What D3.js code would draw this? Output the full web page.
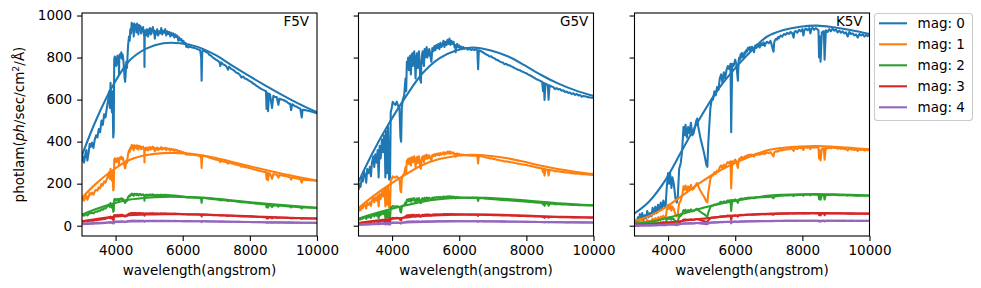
<!DOCTYPE html>
<html><head><meta charset="utf-8">
<script src="https://cdn.jsdelivr.net/npm/d3@7"></script>
<style>
body{margin:0;background:#fff}
svg{display:block}
text{font-family:"DejaVu Sans",sans-serif}
</style>
</head><body>
<svg id="c" width="981" height="288"></svg>
<script>
// ---------------- data ----------------
const starNames = ["F5V", "G5V", "K5V"];
const magLabels = ["mag: 0", "mag: 1", "mag: 2", "mag: 3", "mag: 4"];
const magScale = [1.0, 0.398, 0.158, 0.0631, 0.0251];
const seriesColors = ["#1f77b4", "#ff7f0e", "#2ca02c", "#d62728", "#9467bd"];
const xTicks = [4000, 6000, 8000, 10000];
const yTicks = [0, 200, 400, 600, 800, 1000];

// [wavelength (Å), photlam] for mag 0
const f5vSpectrum = [
[3000,305],[3030,330],[3060,300],[3100,340],[3130,360],[3160,310],[3200,350],[3230,390],[3260,375],[3300,395],
[3340,370],[3380,410],[3420,430],[3460,420],[3500,460],[3540,445],[3580,500],[3620,480],[3660,530],[3700,515],
[3740,560],[3780,600],[3810,640],[3830,560],[3850,680],[3870,610],[3890,540],[3910,640],[3930,420],[3945,440],
[3960,790],[3975,805],[3990,770],[4005,800],[4020,760],[4040,785],[4060,810],[4080,770],[4095,790],[4102,720],
[4110,790],[4130,815],[4150,800],[4170,825],[4190,795],[4210,815],[4230,790],[4250,750],[4270,700],[4285,685],
[4300,720],[4320,780],[4340,750],[4355,800],[4370,850],[4380,870],[4400,900],[4420,880],[4440,935],[4460,915],
[4480,965],[4500,930],[4520,958],[4540,900],[4560,962],[4580,940],[4600,955],[4620,920],[4640,962],[4660,945],
[4680,910],[4700,955],[4720,935],[4740,950],[4760,915],[4780,940],[4800,925],[4820,945],[4840,915],[4855,900],
[4861,755],[4868,900],[4890,930],[4910,905],[4930,935],[4950,915],[4970,900],[4990,935],[5010,915],[5030,940],
[5050,910],[5070,935],[5090,925],[5110,945],[5130,915],[5150,930],[5170,890],[5190,925],[5210,910],[5240,935],
[5270,905],[5300,925],[5330,915],[5360,940],[5390,910],[5420,928],[5450,918],[5480,935],[5510,905],[5540,925],
[5570,912],[5600,922],[5630,900],[5660,918],[5690,905],[5720,915],[5750,895],[5780,910],[5810,898],[5840,905],
[5870,880],[5900,895],[5930,882],[5960,888],[5990,872],[6020,880],[6050,865],[6080,870],[6110,850],[6140,858],
[6170,848],[6200,852],[6280,848],[6360,845],[6440,840],[6520,835],[6550,800],[6563,690],[6580,820],[6600,838],
[6650,832],[6700,826],[6750,822],[6800,812],[6850,808],[6900,800],[6950,795],[7000,788],[7050,785],[7100,776],
[7120,760],[7140,778],[7200,768],[7250,765],[7300,758],[7350,742],[7380,756],[7450,745],[7500,742],[7550,735],
[7600,728],[7650,725],[7700,718],[7750,705],[7800,710],[7850,700],[7900,698],[7950,693],[8000,688],[8050,683],
[8100,676],[8150,672],[8200,665],[8250,660],[8300,655],[8350,650],[8400,646],[8480,640],[8498,555],[8520,632],
[8542,545],[8570,628],[8600,625],[8662,560],[8700,618],[8750,612],[8800,612],[8850,575],[8880,605],[8950,600],
[9000,598],[9100,590],[9150,582],[9200,580],[9230,550],[9260,578],[9330,570],[9400,566],[9450,560],[9500,558],
[9546,515],[9570,552],[9640,550],[9700,548],[9800,545],[9900,540],[10000,535]
];
const f5vBlackbody = [
[3000,335],[3420,503],[3930,669],[4430,788],[4930,844],[5420,868],[5920,868],[6420,852],[7000,810],
[7450,764],[8440,669],[9435,582],[10000,540]
];

const g5vSpectrum = [
[3000,170],[3030,200],[3060,185],[3100,230],[3130,210],[3160,260],[3200,240],[3230,205],[3260,270],[3300,250],
[3340,280],[3370,235],[3400,300],[3440,330],[3470,280],[3500,340],[3540,300],[3570,360],[3600,230],[3630,380],
[3660,320],[3700,410],[3730,350],[3760,430],[3780,420],[3800,230],[3820,450],[3850,250],[3880,470],[3910,220],
[3940,230],[3960,540],[3990,560],[4020,590],[4060,580],[4100,575],[4140,590],[4180,570],[4220,560],[4250,420],
[4270,400],[4290,560],[4320,600],[4360,620],[4400,700],[4420,640],[4440,780],[4460,760],[4480,800],[4500,740],
[4520,790],[4540,810],[4560,720],[4580,800],[4600,820],[4620,760],[4640,800],[4660,830],[4680,780],[4700,700],
[4720,790],[4740,820],[4760,750],[4780,800],[4800,830],[4820,770],[4840,690],[4855,720],[4861,680],[4870,760],
[4890,810],[4910,830],[4930,780],[4950,760],[4970,840],[4990,800],[5010,820],[5030,850],[5050,800],[5070,835],
[5090,810],[5110,840],[5130,820],[5150,800],[5170,780],[5185,810],[5200,845],[5230,830],[5260,855],[5290,835],
[5320,860],[5350,845],[5380,865],[5410,840],[5440,870],[5470,850],[5500,860],[5530,880],[5560,850],[5590,875],
[5620,860],[5650,885],[5680,865],[5710,890],[5740,860],[5770,880],[5800,865],[5830,875],[5860,850],[5880,860],
[5893,825],[5910,855],[5940,865],[5970,848],[6000,858],[6030,845],[6060,852],[6090,840],[6120,850],[6160,842],
[6200,846],[6250,838],[6300,842],[6350,836],[6400,840],[6450,836],[6500,840],[6540,835],[6563,745],[6585,835],
[6650,830],[6700,826],[6750,820],[6800,815],[6850,812],[6900,805],[6950,806],[7000,800],[7050,796],[7100,790],
[7150,788],[7200,782],[7250,778],[7300,776],[7350,768],[7400,770],[7450,764],[7500,763],[7550,758],[7600,755],
[7650,750],[7700,746],[7750,742],[7800,740],[7850,735],[7900,732],[7950,728],[8000,725],[8050,720],[8100,716],
[8150,712],[8200,707],[8250,702],[8300,697],[8350,694],[8400,690],[8470,684],[8498,640],[8520,680],[8542,598],
[8570,676],[8640,670],[8662,600],[8690,668],[8750,662],[8800,660],[8850,650],[8900,655],[8950,648],[9000,650],
[9050,642],[9100,644],[9150,636],[9200,638],[9250,632],[9300,634],[9350,626],[9400,630],[9450,622],[9500,627],
[9550,620],[9600,622],[9650,614],[9700,617],[9800,613],[9900,610],[10000,608]
];
const g5vBlackbody = [
[3000,209],[3410,344],[3910,487],[4408,614],[4908,725],[5407,796],[5906,834],[6405,848],[6945,834],
[7443,806],[7942,764],[8442,717],[8940,677],[9440,645],[10000,617]
];

const k5vSpectrum = [
[3000,20],[3030,25],[3060,15],[3100,40],[3130,20],[3160,55],[3200,30],[3230,60],[3260,25],[3300,50],
[3340,35],[3380,70],[3420,40],[3460,60],[3500,45],[3540,85],[3580,55],[3620,90],[3660,60],[3700,100],
[3740,70],[3780,110],[3820,80],[3860,120],[3900,90],[3930,100],[3960,180],[4000,250],[4030,200],[4060,250],
[4100,180],[4130,230],[4170,200],[4220,130],[4260,110],[4290,140],[4330,270],[4380,300],[4420,360],[4460,470],
[4490,430],[4520,480],[4560,420],[4600,470],[4640,440],[4680,490],[4720,430],[4760,440],[4800,470],[4840,500],
[4870,510],[4900,470],[4960,420],[5020,380],[5080,340],[5140,290],[5170,280],[5200,400],[5260,560],[5300,600],
[5340,600],[5380,640],[5420,620],[5460,660],[5500,645],[5540,700],[5580,720],[5620,680],[5660,730],[5700,700],
[5740,740],[5780,760],[5820,745],[5860,770],[5880,445],[5910,770],[5950,760],[6000,790],[6030,770],[6050,740],
[6080,690],[6100,780],[6120,800],[6140,790],[6160,815],[6180,800],[6200,822],[6225,805],[6250,800],[6275,825],
[6300,818],[6325,835],[6350,828],[6375,845],[6400,838],[6425,850],[6450,832],[6475,848],[6500,852],[6530,840],
[6560,825],[6580,850],[6600,858],[6630,845],[6650,862],[6680,852],[6700,860],[6730,848],[6750,865],[6780,858],
[6800,868],[6830,860],[6850,872],[6880,855],[6900,866],[6950,875],[7000,868],[7050,880],[7100,852],[7141,828],
[7160,870],[7180,882],[7220,890],[7250,885],[7280,898],[7300,892],[7350,905],[7400,900],[7450,912],[7500,908],
[7550,918],[7600,912],[7650,922],[7700,915],[7740,895],[7760,920],[7800,926],[7850,918],[7900,932],[7950,925],
[8000,935],[8030,905],[8060,930],[8100,938],[8150,930],[8200,940],[8240,915],[8270,938],[8300,942],[8350,932],
[8400,940],[8480,930],[8498,800],[8520,900],[8542,780],[8580,920],[8640,925],[8662,790],[8700,930],[8750,922],
[8800,935],[8850,925],[8900,938],[8950,928],[9000,933],[9050,920],[9100,928],[9150,918],[9200,925],[9250,915],
[9300,920],[9350,900],[9400,922],[9450,912],[9500,915],[9550,905],[9600,910],[9650,895],[9700,912],[9750,905],
[9800,910],[9850,900],[9900,908],[9950,902],[10000,910]
];
const k5vBlackbody = [
[3000,58],[3430,114],[3920,217],[4420,360],[4920,503],[5410,630],[5910,733],[6410,820],[6940,899],
[7440,931],[7940,947],[8430,952],[8930,944],[9430,931],[10000,912]
];

const spectra = [f5vSpectrum, g5vSpectrum, k5vSpectrum];
const blackbodies = [f5vBlackbody, g5vBlackbody, k5vBlackbody];

// ---------------- layout ----------------
const svg = d3.select("#c");
const panelLefts = [82, 358.5, 634.5];
const panelW = 235, plotTop = 13, plotBottom = 236;
const FS = 13.5;

panelLefts.forEach((left, pi) => {
  const x = d3.scaleLinear().domain([3000, 10000]).range([left, left + panelW]);
  const y = d3.scaleLinear().domain([-49, 1012]).range([plotBottom, plotTop]);
  const g = svg.append("g");
  const clipId = "clip" + pi;
  svg.append("clipPath").attr("id", clipId).append("rect")
    .attr("x", left).attr("y", plotTop).attr("width", panelW).attr("height", plotBottom - plotTop);

  const line = d3.line().x(d => x(d[0])).y(d => y(d[1]));
  const smooth = d3.line().x(d => x(d[0])).y(d => y(d[1])).curve(d3.curveCatmullRom.alpha(0.5));
  const plot = g.append("g").attr("clip-path", `url(#${clipId})`);
  magScale.forEach((s, mi) => {
    plot.append("path")
      .datum(spectra[pi].map(d => [d[0], d[1] * s]))
      .attr("d", line).attr("fill", "none")
      .attr("stroke", seriesColors[mi]).attr("stroke-width", 2.08)
      .attr("stroke-linejoin", "round");
    plot.append("path")
      .datum(blackbodies[pi].map(d => [d[0], d[1] * s]))
      .attr("d", smooth).attr("fill", "none")
      .attr("stroke", seriesColors[mi]).attr("stroke-width", 2.08);
  });

  // star label
  g.append("text").attr("x", x(9000)).attr("y", y(950))
    .attr("font-size", FS).attr("fill", "#000").text(starNames[pi]);

  // axes
  const xa = g.append("g").attr("transform", `translate(0,${plotBottom})`)
    .call(d3.axisBottom(x).tickValues(xTicks).tickSize(4.9).tickPadding(4.9).tickFormat(d3.format("d")));
  const ya = g.append("g").attr("transform", `translate(${left},0)`)
    .call(d3.axisLeft(y).tickValues(yTicks).tickSize(4.9).tickPadding(4.9)
      .tickFormat(pi === 0 ? d3.format("d") : () => ""));
  [xa, ya].forEach(a => {
    a.select(".domain").remove();
    a.selectAll("line").attr("stroke", "#000").attr("stroke-width", 1.1);
    a.selectAll("text").attr("font-size", FS).attr("font-family", '"DejaVu Sans",sans-serif').attr("fill", "#000");
  });
  g.append("rect").attr("x", left).attr("y", plotTop).attr("width", panelW).attr("height", plotBottom - plotTop)
    .attr("fill", "none").attr("stroke", "#000").attr("stroke-width", 1.1);

  g.append("text").attr("x", left + panelW / 2).attr("y", 275).attr("text-anchor", "middle")
    .attr("font-size", FS).attr("fill", "#000").text("wavelength(angstrom)");
});

// y label
const yl = svg.append("text").attr("transform", `translate(24,${(plotTop + plotBottom) / 2}) rotate(-90)`)
  .attr("text-anchor", "middle").attr("font-size", FS).attr("fill", "#000");
yl.append("tspan").text("photlam(");
yl.append("tspan").attr("font-style", "italic").text("ph");
yl.append("tspan").text("/sec/cm");
yl.append("tspan").attr("font-size", FS * 0.7).attr("dy", -5.5).text("2");
yl.append("tspan").attr("dy", 5.5).text("/Å)");

// legend
const lg = svg.append("g");
lg.append("rect").attr("x", 874.5).attr("y", 13.5).attr("width", 98).attr("height", 107)
  .attr("rx", 3).attr("fill", "#fff").attr("stroke", "#cccccc").attr("stroke-width", 1.1);
magLabels.forEach((lab, i) => {
  const cy = 23.3 + i * 21;
  lg.append("line").attr("x1", 879).attr("x2", 907).attr("y1", cy).attr("y2", cy)
    .attr("stroke", seriesColors[i]).attr("stroke-width", 2.08);
  lg.append("text").attr("x", 917.5).attr("y", cy + 4.9).attr("font-size", FS).attr("fill", "#000").text(lab);
});
</script>
</body></html>
